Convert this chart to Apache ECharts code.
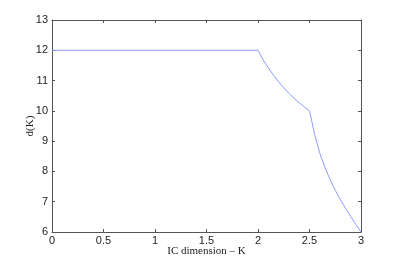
<!DOCTYPE html>
<html>
<head>
<meta charset="utf-8">
<script src="https://cdn.jsdelivr.net/npm/echarts@6/dist/echarts.min.js"></script>
<style>html,body{margin:0;padding:0;background:#fff}#c{width:399px;height:262px}</style>
</head>
<body>
<div id="c"></div>
<script>
var kValues = [0, 2, 2.05, 2.1, 2.15, 2.2, 2.25, 2.3, 2.35, 2.4, 2.45, 2.5, 2.55, 2.6, 2.65, 2.7, 2.75, 2.8, 2.85, 2.9, 2.95, 3];
var dValues = [12, 12, 11.68, 11.42, 11.18, 10.96, 10.76, 10.58, 10.42, 10.27, 10.13, 10, 9.22, 8.6, 8.13, 7.73, 7.38, 7.07, 6.78, 6.51, 6.25, 6];
var xTitle = 'IC dimension \u2013 K';
var yTitle = 'd(K)';

var points = kValues.map(function (k, i) { return [k, dValues[i]]; });
var axisColor = '#555';
var tickFont = { color: '#222', fontFamily: 'Liberation Sans, Arial, sans-serif', fontSize: 11 };
var chart = echarts.init(document.getElementById('c'), null, { renderer: 'canvas' });
chart.setOption({
  animation: false,
  backgroundColor: '#fff',
  grid: { left: 52, right: 38, top: 20, bottom: 30, outerBoundsMode: 'none', containLabel: false },
  xAxis: [{
    type: 'value', min: 0, max: 3, interval: 0.5, position: 'bottom',
    axisLine: { show: true, onZero: false, lineStyle: { color: axisColor, width: 1 } },
    axisTick: { show: true, inside: true, length: 3, lineStyle: { color: axisColor } },
    axisLabel: Object.assign({ margin: 3 }, tickFont),
    splitLine: { show: false },
    name: xTitle, nameLocation: 'middle', nameGap: 14, nameMoveOverlap: false,
    nameTextStyle: { color: '#222', fontFamily: 'Liberation Serif, Times New Roman, serif', fontSize: 11 }
  }, {
    type: 'value', min: 0, max: 3, interval: 0.5, position: 'top',
    axisLine: { show: true, onZero: false, lineStyle: { color: axisColor, width: 1 } },
    axisTick: { show: true, inside: true, length: 3, lineStyle: { color: axisColor } },
    axisLabel: { show: false }, splitLine: { show: false }
  }],
  yAxis: [{
    type: 'value', min: 6, max: 13, interval: 1, position: 'left',
    axisLine: { show: true, onZero: false, lineStyle: { color: axisColor, width: 1 } },
    axisTick: { show: true, inside: true, length: 3, lineStyle: { color: axisColor } },
    axisLabel: Object.assign({ margin: 4 }, tickFont),
    splitLine: { show: false },
    name: yTitle, nameLocation: 'middle', nameGap: 16, nameRotate: 90, nameMoveOverlap: false,
    nameTextStyle: { color: '#222', fontFamily: 'Liberation Serif, Times New Roman, serif', fontSize: 11 }
  }, {
    type: 'value', min: 6, max: 13, interval: 1, position: 'right',
    axisLine: { show: true, onZero: false, lineStyle: { color: axisColor, width: 1 } },
    axisTick: { show: true, inside: true, length: 3, lineStyle: { color: axisColor } },
    axisLabel: { show: false }, splitLine: { show: false }
  }],
  series: [{
    type: 'line', xAxisIndex: 0, yAxisIndex: 0,
    data: points, showSymbol: false, smooth: false,
    lineStyle: { color: '#8c9cff', width: 1 }
  }]
});
</script>
</body>
</html>
